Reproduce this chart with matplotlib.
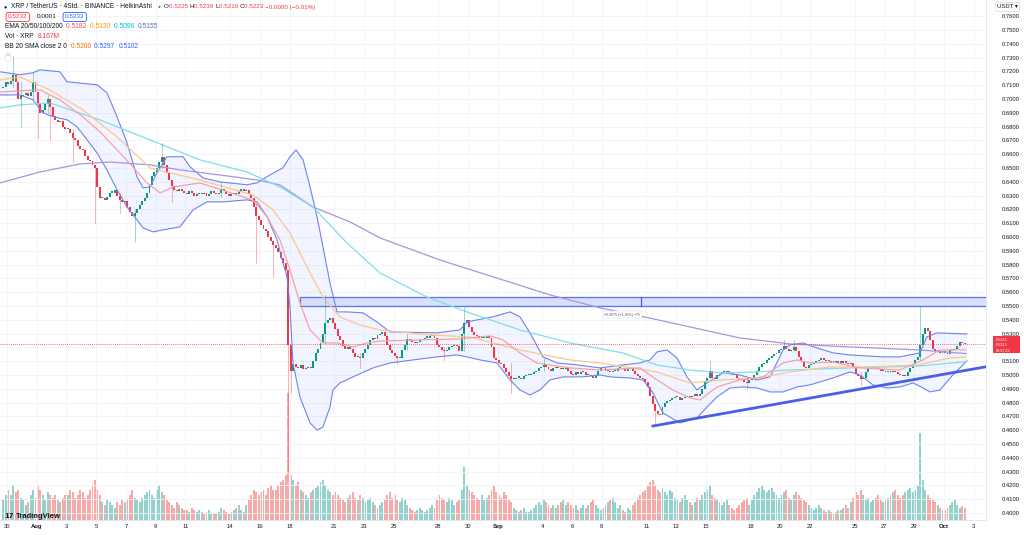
import numpy as np
import matplotlib.pyplot as plt
from matplotlib.patches import Rectangle

# 4h Heikin-Ashi closes, one row per day (first row: Jul 29 16:00 and 20:00)
ha_close = [
    0.709, 0.712,                                 # Jul 29
    0.711, 0.713, 0.717, 0.712, 0.700, 0.702,     # Jul 30
    0.703, 0.704, 0.702, 0.705, 0.712, 0.705,     # Jul 31
    0.697, 0.690, 0.692, 0.696, 0.700, 0.694,     # Aug 1
    0.688, 0.685, 0.683, 0.684, 0.680, 0.678,
    0.678, 0.675, 0.672, 0.670, 0.666, 0.664,
    0.663, 0.659, 0.656, 0.655, 0.652, 0.650,
    0.636, 0.628, 0.628, 0.627, 0.629, 0.632,     # Aug 5
    0.632, 0.634, 0.630, 0.627, 0.625, 0.626,
    0.622, 0.618, 0.615, 0.617, 0.620, 0.623,
    0.626, 0.628, 0.632, 0.638, 0.644, 0.647,
    0.650, 0.654, 0.658, 0.652, 0.646, 0.641,     # Aug 9
    0.637, 0.634, 0.633, 0.635, 0.633, 0.632,
    0.631, 0.633, 0.632, 0.630, 0.631, 0.632,
    0.631, 0.632, 0.630, 0.631, 0.633, 0.632,
    0.631, 0.632, 0.635, 0.633, 0.631, 0.630,     # Aug 13
    0.631, 0.632, 0.631, 0.633, 0.635, 0.633,
    0.634, 0.631, 0.628, 0.622, 0.615, 0.612,
    0.609, 0.606, 0.604, 0.600, 0.597, 0.594,
    0.592, 0.589, 0.585, 0.581, 0.576, 0.522,     # Aug 17
    0.503, 0.508, 0.506, 0.505, 0.507, 0.504,
    0.505, 0.506, 0.505, 0.510, 0.516, 0.519,
    0.523, 0.530, 0.538, 0.540, 0.541, 0.538,
    0.533, 0.528, 0.525, 0.521, 0.519, 0.520,     # Aug 21
    0.519, 0.516, 0.513, 0.513, 0.512, 0.516,
    0.519, 0.522, 0.525, 0.527, 0.526, 0.529,
    0.530, 0.531, 0.528, 0.522, 0.518, 0.516,
    0.514, 0.512, 0.512, 0.518, 0.522, 0.526,     # Aug 25
    0.525, 0.524, 0.523, 0.524, 0.525, 0.526,
    0.527, 0.527, 0.528, 0.529, 0.527, 0.522,
    0.520, 0.518, 0.517, 0.518, 0.520, 0.521,
    0.522, 0.521, 0.517, 0.530, 0.538, 0.540,     # Aug 29
    0.535, 0.531, 0.529, 0.528, 0.527, 0.527,
    0.527, 0.528, 0.527, 0.520, 0.512, 0.511,
    0.509, 0.508, 0.505, 0.502, 0.499, 0.497,     # Sep 1
    0.497, 0.498, 0.498, 0.497, 0.499, 0.500,
    0.500, 0.501, 0.502, 0.503, 0.505, 0.506,
    0.507, 0.506, 0.504, 0.503, 0.505, 0.506,
    0.505, 0.504, 0.504, 0.505, 0.503, 0.501,     # Sep 5
    0.500, 0.502, 0.501, 0.502, 0.502, 0.500,
    0.500, 0.499, 0.498, 0.500, 0.503, 0.505,
    0.505, 0.503, 0.503, 0.502, 0.503, 0.503,
    0.505, 0.505, 0.504, 0.503, 0.504, 0.504,     # Sep 9
    0.503, 0.501, 0.499, 0.498, 0.497, 0.495,
    0.491, 0.485, 0.479, 0.474, 0.472, 0.471,
    0.477, 0.480, 0.481, 0.482, 0.483, 0.484,
    0.484, 0.482, 0.483, 0.484, 0.485, 0.484,     # Sep 13
    0.485, 0.486, 0.485, 0.486, 0.490, 0.495,
    0.498, 0.503, 0.498, 0.497, 0.500, 0.501,
    0.502, 0.502, 0.503, 0.502, 0.501, 0.500,
    0.498, 0.497, 0.496, 0.495, 0.494, 0.496,     # Sep 17
    0.498, 0.500, 0.503, 0.506, 0.508, 0.509,
    0.511, 0.512, 0.514, 0.515, 0.516, 0.518,
    0.519, 0.521, 0.519, 0.517, 0.518, 0.520,
    0.517, 0.513, 0.510, 0.506, 0.505, 0.507,     # Sep 21
    0.508, 0.509, 0.510, 0.511, 0.512, 0.511,
    0.510, 0.510, 0.509, 0.510, 0.509, 0.510,
    0.509, 0.510, 0.509, 0.508, 0.509, 0.505,
    0.501, 0.499, 0.497, 0.498, 0.502, 0.505,     # Sep 25
    0.505, 0.506, 0.505, 0.504, 0.503, 0.503,
    0.502, 0.503, 0.502, 0.503, 0.502, 0.501,
    0.500, 0.499, 0.499, 0.502, 0.505, 0.508,
    0.511, 0.513, 0.522, 0.530, 0.534, 0.532,     # Sep 29
    0.525, 0.519, 0.517, 0.517, 0.516, 0.517,
    0.516, 0.515, 0.518, 0.518, 0.519, 0.521,     # Oct 1
    0.524, 0.523, 0.5223,
]
first_open = 0.708

# candles with visible wicks: index, low, high
wick_idx = [4, 7, 12, 14, 18, 19, 28, 37, 47, 53, 64, 68, 88, 102, 109, 115, 116,
            130, 144, 159, 163, 178, 186, 205, 218, 263, 285, 300, 315, 319, 346, 370]
wick_lo = [0.709, 0.680, 0.700, 0.672, 0.690, 0.670, 0.654, 0.610, 0.617, 0.596, 0.650, 0.625, 0.629,
           0.581, 0.571, 0.430, 0.487, 0.523, 0.505, 0.508, 0.518, 0.511, 0.517, 0.487, 0.503,
           0.464, 0.497, 0.490, 0.519, 0.517, 0.493, 0.511]
wick_hi = [0.731, 0.712, 0.719, 0.697, 0.703, 0.700, 0.678, 0.652, 0.632, 0.620, 0.668, 0.637, 0.640,
           0.624, 0.597, 0.576, 0.522, 0.558, 0.516, 0.514, 0.530, 0.520, 0.549, 0.509, 0.512,
           0.474, 0.510, 0.498, 0.525, 0.525, 0.502, 0.549]

# volume per candle (relative units)
volume = [
    20, 25,
    30, 25, 35, 28, 30, 22,
    20, 15, 18, 25, 30, 22,
    35, 30, 25, 20, 28, 25,
    22, 25, 20, 18, 22, 25,
    25, 30, 28, 22, 25, 30,
    28, 22, 25, 30, 35, 40,
    30, 25, 18, 15, 20, 18,
    15, 12, 18, 15, 20, 18,
    20, 25, 30, 22, 20, 18,
    22, 25, 28, 30, 25, 22,
    30, 35, 28, 25, 20, 18,
    15, 12, 18, 15, 12, 10,
    10, 8, 12, 10, 8, 10,
    8, 6, 8, 10, 7, 6,
    6, 8, 12, 10, 8, 6,
    8, 10, 12, 15, 10, 8,
    15, 20, 25, 30, 28, 25,
    28, 30, 25, 32, 35, 30,
    30, 35, 38, 40, 45, 127,
    45, 40, 35, 38, 30, 28,
    25, 22, 28, 30, 32, 35,
    38, 40, 35, 30, 28, 25,
    28, 25, 22, 20, 18, 22,
    25, 28, 22, 20, 25, 22,
    18, 20, 22, 18, 15, 12,
    15, 18, 20, 25, 28, 22,
    25, 20, 18, 22, 20, 15,
    12, 10, 8, 10, 12, 10,
    8, 10, 12, 15, 12, 20,
    25, 22, 20, 18, 22, 20,
    15, 18, 20, 30, 53, 35,
    30, 28, 25, 22, 20, 25,
    20, 22, 25, 30, 35, 28,
    25, 22, 28, 25, 20, 18,
    12, 10, 8, 10, 12, 8,
    8, 10, 12, 15, 18, 15,
    20, 18, 15, 12, 15, 12,
    15, 18, 20, 15, 18, 15,
    12, 15, 10, 12, 15, 12,
    15, 18, 20, 15, 12, 10,
    12, 15, 18, 20, 22, 18,
    12, 15, 10, 8, 12, 10,
    15, 18, 22, 25, 28, 30,
    35, 38, 40, 35, 30, 28,
    32, 28, 25, 30, 28, 22,
    20, 18, 22, 25, 20, 18,
    15, 18, 22, 20, 25, 28,
    30, 35, 25, 22, 20, 18,
    15, 18, 20, 15, 12, 10,
    12, 15, 18, 20, 22, 15,
    20, 25, 28, 32, 35, 30,
    28, 30, 32, 28, 25, 22,
    25, 28, 30, 22, 20, 25,
    28, 25, 22, 20, 18, 15,
    12, 10, 12, 15, 12, 10,
    8, 10, 8, 6, 8, 10,
    10, 12, 15, 12, 18, 22,
    28, 25, 30, 25, 20, 22,
    18, 20, 22, 25, 20, 18,
    20, 22, 25, 28, 30, 25,
    22, 25, 28, 30, 32, 28,
    30, 35, 87, 40, 30, 25,
    22, 20, 18, 15, 12, 10,
    10, 12, 15, 18, 20, 15,
    12, 14, 12,
]

# indicator lines: day (0 = Jul 30), price
ema200_day = [-0.47, 2.22, 4.91, 6.93, 9.62, 11.63, 14.32, 16.81, 18.36, 20.58, 23.07, 25.08, 29.12,
              33.36, 36.52, 39.88, 42.57, 45.93, 49.29, 52.66, 56.69, 61.40, 64.49]
ema200_val = [0.6391, 0.6471, 0.6529, 0.6543, 0.6522, 0.6486, 0.6449, 0.6413, 0.6377, 0.6217, 0.6109,
              0.5993, 0.5833, 0.5688, 0.5580, 0.5486, 0.5428, 0.5348, 0.5268, 0.5225, 0.5203, 0.5181, 0.5155]
ema100_day = [-0.47, 0.87, 2.89, 6.25, 9.62, 12.98, 16.14, 18.36, 20.58, 22.86, 25.08, 28.24, 31.14,
              34.50, 37.86, 41.43, 43.71, 45.93, 48.15, 50.44, 52.66, 56.69, 61.40, 64.49]
ema100_val = [0.6935, 0.6957, 0.6971, 0.6848, 0.6703, 0.6558, 0.6471, 0.6362, 0.6217, 0.5957, 0.5739,
              0.5565, 0.5449, 0.5326, 0.5232, 0.5159, 0.5072, 0.5036, 0.5014, 0.5022, 0.5036, 0.5051,
              0.5065, 0.5096]
ema50_day = [-0.47, 0.87, 2.89, 5.11, 7.40, 9.62, 12.98, 16.54, 17.89, 19.03, 20.17, 21.25, 22.39,
             23.74, 25.08, 28.45, 31.14, 34.50, 37.86, 39.88, 43.71, 45.93, 48.15, 50.44, 52.66,
             55.35, 57.83, 61.20, 63.42, 64.49]
ema50_val = [0.7138, 0.7159, 0.7065, 0.6920, 0.6725, 0.6500, 0.6413, 0.6304, 0.6196, 0.6029, 0.5783,
             0.5565, 0.5420, 0.5362, 0.5326, 0.5290, 0.5275, 0.5181, 0.5109, 0.5087, 0.5022, 0.4942,
             0.4964, 0.4978, 0.5022, 0.5058, 0.5058, 0.5072, 0.5123, 0.5130]
ema20_day = [-0.47, 2.22, 3.56, 5.11, 6.25, 7.40, 8.47, 9.41, 10.29, 11.16, 12.98, 16.54, 17.49, 18.36,
             19.03, 19.70, 20.38, 21.25, 22.19, 23.27, 24.21, 25.08, 27.77, 30.46, 32.48, 33.36, 34.50,
             35.64, 37.86, 39.88, 42.57, 43.71, 44.79, 45.93, 46.60, 47.75, 49.29, 50.84, 52.19, 53.13,
             54.00, 55.55, 57.36, 60.05, 61.60, 62.74, 64.49]
ema20_val = [0.7051, 0.7066, 0.6993, 0.6870, 0.6762, 0.6631, 0.6508, 0.6391, 0.6319, 0.6362, 0.6391,
             0.6268, 0.6145, 0.5978, 0.5761, 0.5522, 0.5326, 0.5232, 0.5232, 0.5203, 0.5232, 0.5246,
             0.5254, 0.5261, 0.5283, 0.5254, 0.5159, 0.5087, 0.5051, 0.5036, 0.5051, 0.4964, 0.4891,
             0.4833, 0.4819, 0.4913, 0.4964, 0.4986, 0.5087, 0.5109, 0.5087, 0.5094, 0.5051, 0.5036,
             0.5109, 0.5181, 0.5182]
bb_up_day = [-0.47, 0.87, 1.75, 2.22, 3.56, 4.04, 4.71, 6.05, 6.72, 7.40, 8.07, 8.74, 9.15, 9.62, 10.09,
             10.76, 11.84, 12.31, 13.18, 14.32, 16.14, 16.81, 17.69, 18.56, 19.03, 19.44, 19.91, 20.38,
             20.85, 21.25, 21.72, 22.19, 22.87, 23.94, 24.88, 25.76, 28.92, 30.46, 30.94, 31.61, 32.68,
             33.83, 34.50, 35.17, 36.05, 36.99, 38.33, 39.88, 41.43, 42.57, 43.24, 43.71, 44.39, 45.06,
             45.73, 46.40, 47.08, 48.15, 49.29, 50.44, 51.31, 52.19, 52.66, 53.53, 54.47, 55.55, 56.69,
             58.91, 60.05, 61.40, 61.87, 62.54, 64.56]
bb_up_val = [0.7197, 0.7175, 0.7190, 0.7211, 0.7197, 0.7124, 0.7117, 0.7103, 0.7045, 0.6871, 0.6682,
             0.6436, 0.6356, 0.6363, 0.6465, 0.6581, 0.6581, 0.6508, 0.6428, 0.6399, 0.6378, 0.6392,
             0.6450, 0.6501, 0.6581, 0.6631, 0.6559, 0.6363, 0.6146, 0.5928, 0.5667, 0.5457, 0.5457,
             0.5450, 0.5384, 0.5312, 0.5305, 0.5326, 0.5384, 0.5399, 0.5421, 0.5457, 0.5421, 0.5305,
             0.5131, 0.5087, 0.5073, 0.5051, 0.5073, 0.5087, 0.5109, 0.5167, 0.5181, 0.5123, 0.4986,
             0.4891, 0.4942, 0.5015, 0.5000, 0.4964, 0.4986, 0.5181, 0.5218, 0.5232, 0.5196, 0.5160,
             0.5145, 0.5131, 0.5131, 0.5160, 0.5276, 0.5305, 0.5297]
bb_lo_day = [-0.47, 0.87, 1.75, 2.42, 3.09, 4.04, 4.71, 5.38, 6.05, 6.72, 7.40, 8.07, 8.74, 9.15, 9.82,
             10.49, 11.63, 12.51, 13.45, 14.53, 16.14, 16.81, 17.49, 18.16, 18.56, 18.83, 19.03, 19.23,
             19.70, 20.38, 20.85, 21.25, 21.72, 21.92, 22.39, 23.27, 24.61, 25.76, 27.30, 28.92, 30.26,
             30.94, 31.81, 32.95, 33.83, 34.50, 35.17, 35.84, 36.52, 37.39, 38.73, 39.88, 40.55, 41.90,
             42.77, 43.44, 44.12, 45.26, 46.40, 47.08, 47.75, 48.62, 49.49, 50.44, 51.31, 52.19, 53.13,
             54.00, 55.55, 56.69, 57.36, 58.24, 59.18, 60.05, 60.93, 61.60, 62.07, 62.74, 63.61, 64.56]
bb_lo_val = [0.7029, 0.7029, 0.6994, 0.6900, 0.6871, 0.6849, 0.6798, 0.6704, 0.6610, 0.6486, 0.6341,
             0.6218, 0.6124, 0.6066, 0.6037, 0.6051, 0.6073, 0.6196, 0.6254, 0.6254, 0.6269, 0.6254,
             0.6146, 0.5979, 0.5812, 0.5711, 0.5493, 0.5087, 0.4841, 0.4652, 0.4601, 0.4623, 0.4768,
             0.4891, 0.4942, 0.4986, 0.5051, 0.5087, 0.5109, 0.5131, 0.5145, 0.5131, 0.5109, 0.5087,
             0.4964, 0.4891, 0.4855, 0.4891, 0.4964, 0.4986, 0.4986, 0.5000, 0.4986, 0.4978, 0.4964,
             0.4870, 0.4724, 0.4652, 0.4688, 0.4768, 0.4841, 0.4906, 0.4913, 0.4906, 0.4877, 0.4877,
             0.4913, 0.4928, 0.4978, 0.5022, 0.5000, 0.4928, 0.4906, 0.4913, 0.4942, 0.4906, 0.4877,
             0.4891, 0.5000, 0.5102]

# drawings
zone_start, zone_lo, zone_hi, zone_mid = 19.70, 0.5500, 0.5565, 42.64
trend_day = [43.44, 65.77]
trend_val = [0.4630, 0.5058]
last_price = 0.5223

tick_days = [0, 2, 4, 6, 8, 10, 12, 15, 17, 19, 22, 24, 26, 29, 31, 33, 36, 38, 40, 43, 45, 47,
             50, 52, 54, 57, 59, 61, 63, 65]
tick_labels = ['30', 'Aug', '3', '5', '7', '9', '11', '14', '16', '18', '21', '23', '25', '28', '30',
               'Sep', '4', '6', '8', '11', '13', '15', '18', '20', '22', '25', '27', '29', 'Oct', '3']
price_ticks = np.round(np.arange(0.40, 0.7601, 0.01), 2)

GREEN, RED = '#089981', '#f23645'
TXT = '#131722'
plt.rcParams['font.family'] = ['Liberation Sans', 'DejaVu Sans']

W, H = 1024, 535
fig = plt.figure(figsize=(W / 100, H / 100), dpi=100)
ax = fig.add_axes([0, 15 / H, 986 / W, 520 / H])
axv = ax.twinx()
ax.set_zorder(axv.get_zorder() + 1)
ax.patch.set_visible(False)

close = np.array(ha_close)
n = len(close)
t = -0.25 + np.arange(n) / 6
opn = np.concatenate([[first_open], close[:-1]])
up = close >= opn
body_lo = np.minimum(opn, close)
body_h = np.maximum(np.abs(close - opn), 0.0010)

# volume
axv.bar(t, volume, width=0.13, color=np.where(up, '#92d2cc', '#f7a9a7'), linewidth=0)
axv.set_ylim(0, 520)
axv.set_axis_off()

# bollinger band
ax.fill(np.concatenate([bb_up_day, bb_lo_day[::-1]]), np.concatenate([bb_up_val, bb_lo_val[::-1]]),
        color='#2962ff', alpha=0.06, lw=0)
ax.plot(bb_up_day, bb_up_val, color='#6b83f0', lw=0.8)
ax.plot(bb_lo_day, bb_lo_val, color='#6b83f0', lw=0.8)

# EMAs
ax.plot(ema200_day, ema200_val, color='#a894e0', lw=0.9)
ax.plot(ema100_day, ema100_val, color='#7fdde9', lw=0.9)
ax.plot(ema50_day, ema50_val, color='#ffc58a', lw=0.9)
ax.plot(ema20_day, ema20_val, color='#f7a1a6', lw=0.9)

# candles
for i, lo, hi in zip(wick_idx, wick_lo, wick_hi):
    ax.plot([t[i], t[i]], [lo, hi], color=GREEN if up[i] else RED, lw=0.5, alpha=0.55)
ax.bar(t, body_h, bottom=body_lo, width=0.13, color=np.where(up, GREEN, RED), linewidth=0)

# zone + trendline + last price
ax.add_patch(Rectangle((zone_start, zone_lo), 70, zone_hi - zone_lo, facecolor='#d3dcfb',
                       edgecolor='#4a63e8', lw=0.9, alpha=0.9))
ax.plot([zone_mid, zone_mid], [zone_lo, zone_hi], color='#4a63e8', lw=0.9)
ax.text(zone_mid - 0.05, 0.5436, '\u22120.0075 (\u22121.36%) \u221275', fontsize=2.6, color='#50535e',
        ha='right', va='center', bbox=dict(boxstyle='square,pad=0.4', fc='white', ec='#d1d4dc', lw=0.3))
ax.plot(trend_day, trend_val, color='#4a5fe6', lw=2)
ax.axhline(last_price, color=RED, lw=0.6, ls=(0, (1, 1.5)))

# axes styling
ax.set_xlim(-0.471, 65.84)
ax.set_ylim(0.3949, 0.7717)
ax.yaxis.tick_right()
ax.set_yticks(price_ticks)
# the 0.5200 label sits under the last-price box
ax.set_yticklabels(['' if abs(v - 0.52) < 1e-6 else '%.4f' % v for v in price_ticks])
ax.set_xticks(tick_days)
ax.set_xticklabels(tick_labels)
for lab in ax.get_xticklabels():
    if lab.get_text() in ('Aug', 'Sep', 'Oct'):
        lab.set_fontweight('bold')
ax.tick_params(axis='y', length=0, labelsize=4.2, labelcolor=TXT, pad=11)
ax.tick_params(axis='x', length=0, labelsize=4.2, labelcolor=TXT, pad=3)
ax.grid(True, color='#f0f3fa', lw=0.6)
ax.set_axisbelow(True)
for s in ['top', 'left']:
    ax.spines[s].set_visible(False)
for s in ['right', 'bottom']:
    ax.spines[s].set_color('#e0e3eb')
    ax.spines[s].set_linewidth(0.6)


def fx(x):
    return x / W


def fy(y):
    return 1 - y / H


renderer = fig.canvas.get_renderer()


def text_row(x, y, parts, fs=4.8):
    # lays out coloured pieces one after another on one line
    for s, c in parts:
        tx = fig.text(fx(x), fy(y), s, fontsize=fs, color=c, va='center')
        x += tx.get_window_extent(renderer=renderer).width


# legend block
fig.text(fx(3), fy(7), '\u25cf', fontsize=4, color='#2a2e39', va='center')
text_row(11, 7, [('XRP / TetherUS \u00b7 4Std. \u00b7 BINANCE \u00b7 HeikinAshi', TXT)])
fig.text(fx(158), fy(7), '\u25cf', fontsize=3.5, color=GREEN, va='center')
text_row(164, 7, [('O', TXT), ('0.5225 ', RED), ('H', TXT), ('0.5239 ', RED), ('L', TXT),
                  ('0.5210 ', RED), ('C', TXT), ('0.5223 ', RED), ('\u22120.0000 (\u22120.01%)', RED)],
         fs=4.5)

fig.text(fx(8), fy(17), '0.5232', fontsize=4.6, color=RED, va='center',
         bbox=dict(boxstyle='round,pad=0.3', fc='white', ec=RED, lw=0.6))
fig.text(fx(37), fy(17), '0.0001', fontsize=4.6, color=TXT, va='center')
fig.text(fx(65), fy(17), '0.5233', fontsize=4.6, color='#2962ff', va='center',
         bbox=dict(boxstyle='round,pad=0.3', fc='white', ec='#2962ff', lw=0.6))

text_row(5, 27, [('EMA 20/50/100/200  ', TXT), ('0.5182  ', '#f7525f'), ('0.5130  ', '#ff9800'),
                 ('0.5096  ', '#00bcd4'), ('0.5155', '#5c6bc0')])
text_row(5, 37, [('Vol \u00b7 XRP  ', TXT), ('8.167M', RED)])
text_row(5, 47, [('BB 20 SMA close 2 0  ', TXT), ('0.5200  ', '#ff6d00'), ('0.5297  ', '#2962ff'),
                 ('0.5102', '#2962ff')])
fig.text(fx(7), fy(57), '^', fontsize=3.5, color='#787b86', va='center',
         bbox=dict(boxstyle='round,pad=0.3', fc='white', ec='#e0e3eb', lw=0.5))

# right axis extras
fig.text(fx(997), fy(7), 'USDT \u25be', fontsize=4.3, color=TXT, va='center',
         bbox=dict(boxstyle='round,pad=0.3', fc='white', ec='#d1d4dc', lw=0.5))
fig.patches.append(Rectangle((fx(993), fy(353)), 27 / W, 17 / H, transform=fig.transFigure,
                             facecolor=RED, edgecolor='none'))
for y, s in [(340, '0.5232'), (345.5, '0.5223'), (351, '03:57:22')]:
    fig.text(fx(996), fy(y), s, fontsize=2.7, color='white', va='center')

# TradingView mark
fig.text(fx(4), fy(517), '17', fontsize=6, fontweight='bold', color='#131722', va='center')
fig.text(fx(16), fy(517), 'TradingView', fontsize=5.5, fontweight='bold', color='#131722', va='center')

fig.savefig('out.png', dpi=100, facecolor='white')
